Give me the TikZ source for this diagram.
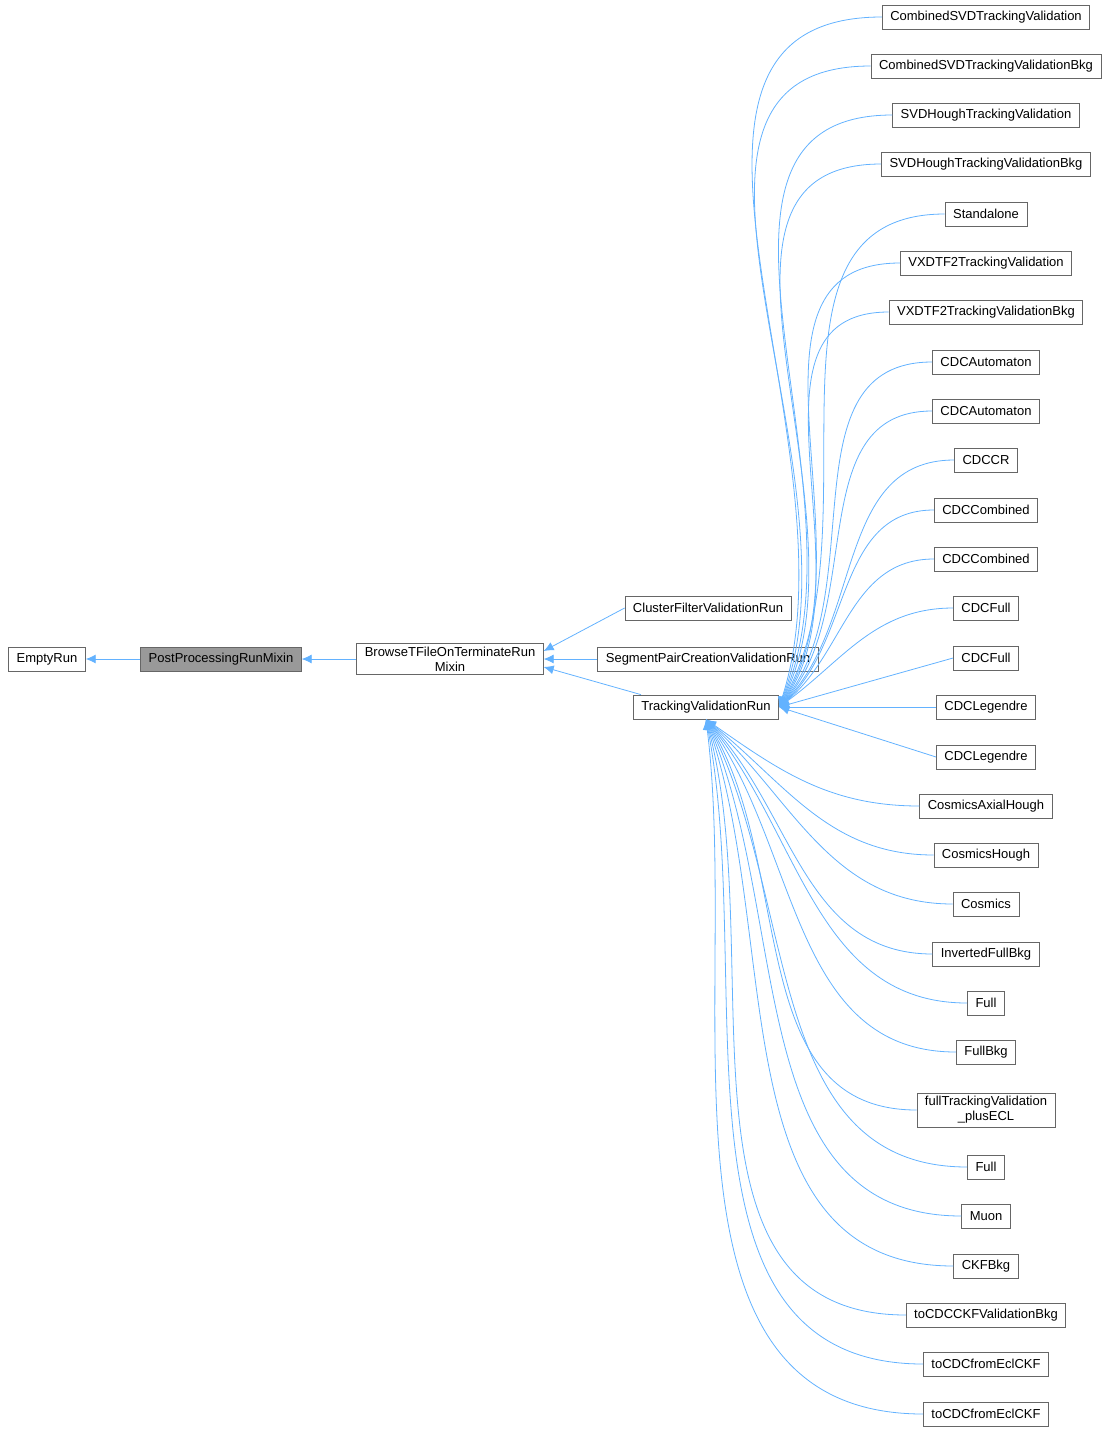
\documentclass[tikz,border=0pt]{standalone}
\usepackage{fontspec}
\setmainfont{Liberation Sans}
\usetikzlibrary{arrows.meta}
\definecolor{edgeBlue}{RGB}{99,178,255}
\definecolor{boxGrey}{RGB}{153,153,153}
\definecolor{lineGrey}{RGB}{102,102,102}
\tikzset{
  cls/.style = {draw = lineGrey, fill = white, minimum height = 24pt, inner xsep = 8pt,
                line width = 0.8pt, font = \fontsize{13}{15}\selectfont, align = center},
  edge/.style = {draw = edgeBlue, line width = 0.8pt, {Latex[length = 10pt, width = 9pt]}-},
}
\begin{document}
\begin{tikzpicture}[x = 1pt, y = 1pt]
  % Bounding box
  \useasboundingbox (0, 0) rectangle (1109, -1433);
  % linke Kette
  \node [cls] (empty) at (47, -659) {EmptyRun};
  \node [cls, fill = boxGrey] (pprm) at (221, -659) {PostProcessingRunMixin};
  \node [cls] (browse) at (450, -659) {BrowseTFileOnTerminateRun\\Mixin};
  \node [cls] (cluster) at (708, -608) {ClusterFilterValidationRun};
  \node [cls] (segment) at (708, -659) {SegmentPairCreationValidationRun};
  \node [cls] (tv) at (706, -707) {TrackingValidationRun};
  \draw [edge] (empty) -- (pprm);
  \draw [edge] (pprm) -- (browse);
  \draw [edge] ([yshift = 8]browse.east) -- (cluster.west);
  \draw [edge] (browse.east) -- (segment.west);
  \draw [edge] ([yshift = -8]browse.east) -- ([xshift = 8]tv.north west);
  % rechte Spalte
  \foreach \i/\y/\t in {1/17/CombinedSVDTrackingValidation, 2/66/CombinedSVDTrackingValidationBkg,
      3/115/SVDHoughTrackingValidation, 4/164/SVDHoughTrackingValidationBkg, 5/214/Standalone,
      6/263/VXDTF2TrackingValidation, 7/312/VXDTF2TrackingValidationBkg, 8/362/CDCAutomaton,
      9/411/CDCAutomaton, 10/460/CDCCR, 11/510/CDCCombined, 12/559/CDCCombined, 13/608/CDCFull,
      14/658/CDCFull, 15/707/CDCLegendre, 16/757/CDCLegendre, 17/806/CosmicsAxialHough,
      18/855/CosmicsHough, 19/904/Cosmics, 20/954/InvertedFullBkg, 21/1003/Full, 22/1052/FullBkg,
      23/1110/{fullTrackingValidation\\\_plusECL}, 24/1167/Full, 25/1216/Muon, 26/1266/CKFBkg,
      27/1315/toCDCCKFValidationBkg, 28/1364/toCDCfromEclCKF, 29/1414/toCDCfromEclCKF}
    \node [cls] (c\i) at (986, -\y) {\t};
  % Kanten nach oben
  \foreach \i in {1, ..., 13}
    \draw [edge] (tv.east) to [out = {75 - 3*\i}, in = 180] (c\i.west);
  \foreach \i in {14, 15, 16}
    \draw [edge] (tv.east) -- (c\i.west);
  % Kanten nach unten
  \foreach \i in {17, ..., 29}
    \draw [edge] (tv.south) to [out = {-35 - 4*(\i - 17)}, in = 180] (c\i.west);
\end{tikzpicture}
\end{document}
